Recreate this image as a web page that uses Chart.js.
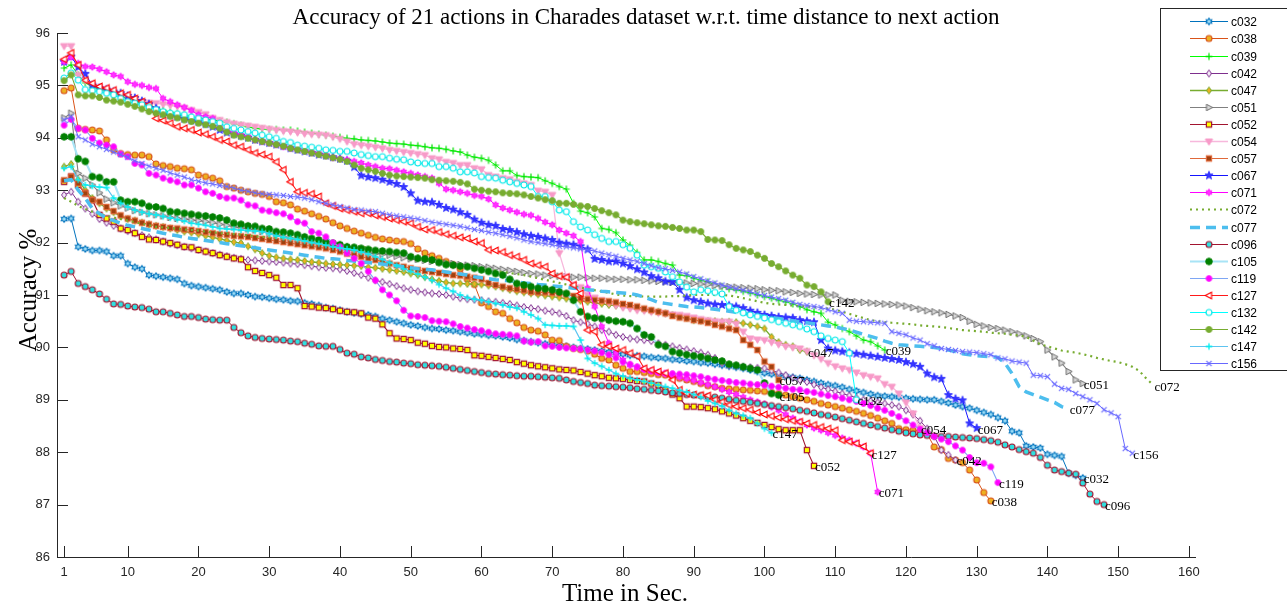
<!DOCTYPE html>
<html>
<head>
<meta charset="utf-8">
<script src="https://cdn.jsdelivr.net/npm/chart.js@4.4.1/dist/chart.umd.min.js"></script>
<style>
html,body{margin:0;padding:0;background:#fff;}
#wrap{width:1287px;height:610px;position:relative;}
</style>
</head>
<body>
<div id="wrap"><canvas id="c" width="1287" height="610"></canvas></div>
<script>
// ---------------- DATA (one value per second, starting at t = 1) ----------------
const titleText = 'Accuracy of 21 actions in Charades dataset w.r.t. time distance to next action';
const xAxisTitle = 'Time in Sec.';
const yAxisTitle = 'Accuracy %';
const xTickValues = [1,10,20,30,40,50,60,70,80,90,100,110,120,130,140,150,160];
const xTickLabels = ['1','10','20','30','40','50','60','70','80','90','100','110','120','130','140','150','160'];
const yTickValues = [86,87,88,89,90,91,92,93,94,95,96];
const yTickLabels = ['86','87','88','89','90','91','92','93','94','95','96'];
const seriesNames = ['c032','c038','c039','c042','c047','c051','c052','c054','c057','c067','c071','c072','c077','c096','c105','c119','c127','c132','c142','c147','c156'];

const c032 = [92.45,92.46,91.92,91.88,91.85,91.85,91.83,91.75,91.75,91.6,
91.53,91.5,91.38,91.36,91.34,91.32,91.3,91.22,91.18,91.16,
91.14,91.12,91.1,91.06,91.03,91.03,91.0,90.97,90.96,90.94,
90.92,90.91,90.89,90.88,90.85,90.83,90.8,90.76,90.74,90.71,
90.68,90.66,90.64,90.62,90.59,90.55,90.52,90.49,90.46,90.43,
90.41,90.38,90.36,90.35,90.33,90.32,90.3,90.28,90.26,90.25,
90.23,90.22,90.2,90.18,90.15,90.13,90.11,90.09,90.07,90.05,
90.03,90.02,90.0,89.98,89.97,89.95,89.93,89.91,89.89,89.87,
89.85,89.84,89.83,89.81,89.8,89.79,89.77,89.76,89.74,89.73,
89.71,89.7,89.68,89.66,89.64,89.62,89.6,89.57,89.54,89.51,
89.49,89.47,89.45,89.43,89.41,89.38,89.35,89.32,89.29,89.27,
89.24,89.2,89.17,89.14,89.11,89.08,89.07,89.06,89.05,89.03,
89.02,89.01,89.0,89.0,88.97,88.94,88.9,88.87,88.84,88.8,
88.76,88.72,88.66,88.6,88.4,88.37,88.12,88.1,88.08,87.96,
87.94,87.92,87.6,87.56,87.51];

const c038 = [94.9,94.95,94.18,94.16,94.15,94.13,93.96,93.77,93.7,93.68,
93.67,93.67,93.64,93.5,93.47,93.45,93.42,93.41,93.39,93.29,
93.26,93.23,93.18,93.07,93.04,93.0,92.97,92.94,92.92,92.88,
92.78,92.76,92.72,92.64,92.6,92.55,92.5,92.45,92.38,92.32,
92.27,92.22,92.18,92.14,92.1,92.07,92.05,92.03,92.02,91.98,
91.88,91.8,91.75,91.7,91.64,91.58,91.5,91.3,91.2,90.85,
90.78,90.68,90.65,90.55,90.47,90.38,90.33,90.31,90.24,90.14,
90.13,90.02,89.98,89.96,89.93,89.87,89.79,89.76,89.66,89.6,
89.54,89.54,89.52,89.5,89.48,89.47,89.44,89.41,89.38,89.35,
89.31,89.27,89.25,89.22,89.21,89.2,89.19,89.18,89.17,89.16,
89.14,89.12,89.09,89.06,89.03,89.0,88.97,88.93,88.9,88.87,
88.84,88.81,88.78,88.74,88.7,88.65,88.6,88.55,88.45,88.43,
88.42,88.4,88.35,88.1,88.05,87.88,87.85,87.8,87.66,87.47,
87.23,87.07];

const c039 = [95.33,95.39,95.2,95.05,94.97,94.93,94.9,94.85,94.8,94.75,
94.7,94.66,94.62,94.57,94.53,94.49,94.46,94.43,94.4,94.38,
94.36,94.34,94.32,94.3,94.27,94.24,94.21,94.18,94.17,94.16,
94.16,94.15,94.15,94.13,94.11,94.09,94.07,94.05,94.03,94.01,
93.99,93.98,93.96,93.95,93.94,93.92,93.9,93.89,93.88,93.86,
93.85,93.83,93.81,93.8,93.78,93.75,93.73,93.67,93.63,93.61,
93.57,93.48,93.37,93.37,93.28,93.26,93.25,93.24,93.18,93.13,
93.07,93.02,92.75,92.6,92.57,92.49,92.27,92.25,92.19,92.05,
91.95,91.81,91.67,91.67,91.64,91.6,91.57,91.38,91.37,91.32,
91.28,91.25,91.2,91.16,91.12,91.1,91.07,91.04,91.0,90.97,
90.94,90.9,90.87,90.83,90.78,90.72,90.68,90.65,90.48,90.43,
90.36,90.3,90.22,90.14,90.11,90.03,89.95];

const c042 = [92.91,92.97,92.78,92.65,92.55,92.45,92.38,92.32,92.27,92.22,
92.18,92.14,92.1,92.06,92.02,91.98,91.95,91.92,91.89,91.86,
91.83,91.8,91.77,91.74,91.71,91.69,91.67,91.66,91.65,91.64,
91.63,91.62,91.6,91.59,91.57,91.55,91.53,91.52,91.51,91.49,
91.46,91.42,91.38,91.33,91.28,91.25,91.21,91.17,91.13,91.1,
91.07,91.05,91.03,91.02,91.0,90.97,90.94,90.92,90.91,90.9,
90.88,90.87,90.85,90.83,90.8,90.77,90.75,90.73,90.7,90.68,
90.65,90.6,90.52,90.48,90.45,90.4,90.33,90.3,90.24,90.2,
90.17,90.15,90.14,90.12,90.08,90.05,90.02,89.99,89.96,89.93,
89.9,89.86,89.8,89.7,89.66,89.65,89.63,89.62,89.61,89.6,
89.56,89.52,89.47,89.42,89.38,89.34,89.29,89.24,89.2,89.16,
89.12,89.08,89.04,89.0,88.98,88.95,88.93,88.9,88.87,88.8,
88.72,88.6,88.45,88.3,88.04,87.95,87.85];

const c047 = [93.45,93.5,93.2,93.0,92.85,92.75,92.65,92.58,92.5,92.45,
92.42,92.38,92.35,92.32,92.3,92.27,92.24,92.21,92.19,92.16,
92.13,92.1,92.07,92.04,92.01,91.99,91.93,91.87,91.8,91.75,
91.72,91.7,91.68,91.67,91.65,91.63,91.62,91.6,91.59,91.58,
91.57,91.56,91.55,91.53,91.52,91.5,91.48,91.46,91.44,91.41,
91.38,91.34,91.3,91.27,91.24,91.22,91.22,91.21,91.21,91.2,
91.18,91.16,91.13,91.1,91.07,91.05,91.03,91.01,90.99,90.97,
90.95,90.93,90.91,90.89,90.87,90.85,90.83,90.81,90.8,90.78,
90.76,90.74,90.72,90.7,90.68,90.65,90.62,90.59,90.56,90.52,
90.51,90.5,90.5,90.49,90.49,90.48,90.46,90.43,90.4,90.36,
90.2,90.1,90.05,90.02,89.95,89.92];

const c051 = [94.38,94.47,93.32,93.23,93.1,92.95,92.83,92.76,92.7,92.66,
92.61,92.58,92.55,92.53,92.51,92.48,92.46,92.45,92.43,92.42,
92.4,92.38,92.35,92.33,92.3,92.28,92.26,92.24,92.21,92.17,
92.14,92.11,92.08,92.06,92.03,92.0,91.97,91.95,91.92,91.9,
91.87,91.84,91.82,91.8,91.79,91.78,91.76,91.74,91.71,91.69,
91.68,91.66,91.64,91.63,91.61,91.6,91.58,91.57,91.56,91.54,
91.53,91.51,91.49,91.47,91.45,91.43,91.41,91.4,91.38,91.37,
91.36,91.35,91.34,91.34,91.33,91.32,91.32,91.31,91.3,91.3,
91.29,91.29,91.28,91.27,91.26,91.25,91.24,91.24,91.23,91.22,
91.21,91.2,91.18,91.17,91.16,91.15,91.14,91.13,91.12,91.1,
91.09,91.08,91.06,91.05,91.03,91.02,91.01,91.0,91.0,91.0,
90.9,90.88,90.87,90.86,90.85,90.84,90.83,90.82,90.81,90.79,
90.76,90.73,90.7,90.68,90.66,90.63,90.6,90.57,90.5,90.44,
90.41,90.38,90.36,90.33,90.3,90.26,90.22,90.17,90.11,89.95,
89.82,89.7,89.54,89.38,89.31];

const c052 = [93.16,93.26,93.1,92.94,92.81,92.53,92.46,92.4,92.27,92.24,
92.18,92.11,92.06,92.05,92.02,91.99,91.96,91.92,91.91,91.86,
91.83,91.8,91.76,91.73,91.7,91.68,91.53,91.46,91.42,91.38,
91.33,91.19,91.19,91.13,90.79,90.78,90.76,90.75,90.73,90.7,
90.68,90.67,90.65,90.57,90.55,90.44,90.27,90.17,90.16,90.14,
90.09,90.07,90.03,90.01,90.0,89.98,89.97,89.95,89.85,89.84,
89.82,89.8,89.78,89.76,89.72,89.69,89.66,89.64,89.62,89.6,
89.58,89.57,89.56,89.53,89.5,89.47,89.45,89.42,89.41,89.4,
89.38,89.36,89.35,89.31,89.28,89.19,89.1,89.03,88.87,88.87,
88.86,88.84,88.82,88.78,88.74,88.7,88.65,88.6,88.56,88.52,
88.48,88.44,88.42,88.42,88.42,88.04,87.74];

const c054 = [95.75,95.75,95.2,95.1,95.02,94.97,94.93,94.88,94.83,94.78,
94.73,94.69,94.67,94.66,94.64,94.62,94.6,94.57,94.53,94.49,
94.45,94.38,94.34,94.3,94.27,94.25,94.23,94.21,94.19,94.17,
94.15,94.13,94.12,94.1,94.08,94.07,94.06,94.05,94.02,93.98,
93.93,93.88,93.86,93.84,93.82,93.8,93.77,93.75,93.73,93.71,
93.69,93.67,93.61,93.59,93.54,93.52,93.48,93.48,93.42,93.4,
93.29,93.26,93.23,93.21,93.16,93.13,93.1,92.99,92.97,92.91,
91.8,91.35,91.2,91.15,91.0,90.95,90.9,90.85,90.8,90.76,
90.74,90.71,90.7,90.68,90.66,90.65,90.63,90.62,90.6,90.57,
90.54,90.52,90.5,90.49,90.49,90.45,90.3,90.17,90.15,90.14,
90.1,90.06,90.02,90.0,89.98,89.93,89.85,89.78,89.7,89.64,
89.6,89.57,89.52,89.47,89.44,89.41,89.3,89.25,89.12,88.95,
88.74,88.46];

const c057 = [93.19,93.26,93.13,92.94,92.81,92.78,92.68,92.6,92.52,92.46,
92.42,92.38,92.35,92.32,92.3,92.28,92.27,92.25,92.24,92.22,
92.2,92.18,92.16,92.15,92.13,92.12,92.11,92.09,92.07,92.05,
92.03,92.01,91.99,91.97,91.95,91.93,91.91,91.89,91.86,91.83,
91.79,91.76,91.73,91.7,91.67,91.64,91.6,91.57,91.54,91.51,
91.48,91.46,91.44,91.42,91.4,91.38,91.37,91.35,91.33,91.3,
91.23,91.19,91.16,91.13,91.11,91.09,91.06,91.05,91.05,91.04,
91.03,91.01,90.98,90.94,90.92,90.9,90.89,90.88,90.86,90.83,
90.81,90.78,90.74,90.71,90.68,90.65,90.6,90.57,90.55,90.52,
90.5,90.47,90.43,90.4,90.36,90.33,90.14,90.05,89.95,89.73,
89.63,89.38];

const c067 = [95.45,95.55,95.35,95.22,95.0,94.95,94.92,94.88,94.85,94.8,
94.76,94.7,94.64,94.56,94.46,94.43,94.4,94.36,94.33,94.3,
94.26,94.21,94.15,94.1,94.07,94.04,94.0,93.96,93.93,93.9,
93.87,93.84,93.8,93.77,93.74,93.71,93.68,93.66,93.63,93.6,
93.56,93.44,93.28,93.25,93.23,93.2,93.16,93.12,93.06,92.94,
92.8,92.78,92.77,92.72,92.66,92.63,92.58,92.53,92.44,92.38,
92.34,92.32,92.26,92.24,92.2,92.16,92.13,92.11,92.08,92.05,
92.0,91.98,91.96,91.93,91.87,91.69,91.67,91.64,91.64,91.6,
91.55,91.49,91.43,91.36,91.32,91.26,91.25,91.1,90.95,90.9,
90.87,90.84,90.82,90.81,90.8,90.78,90.75,90.7,90.66,90.62,
90.6,90.58,90.57,90.56,90.52,90.5,90.48,90.14,89.98,89.94,
89.92,89.9,89.88,89.86,89.84,89.82,89.8,89.78,89.76,89.72,
89.68,89.63,89.5,89.43,89.4,89.09,89.02,88.99,88.55,88.46];

const c071 = [95.45,95.54,95.42,95.36,95.35,95.31,95.26,95.2,95.17,95.07,
95.02,95.0,94.96,94.94,94.75,94.69,94.63,94.58,94.52,94.44,
94.4,94.37,94.21,94.15,94.09,94.05,94.02,93.96,93.93,93.9,
93.87,93.83,93.8,93.78,93.75,93.72,93.7,93.66,93.62,93.6,
93.58,93.55,93.52,93.48,93.45,93.42,93.41,93.38,93.35,93.32,
93.29,93.26,93.23,93.13,93.02,93.0,92.97,92.94,92.9,92.88,
92.83,92.72,92.66,92.62,92.58,92.54,92.52,92.46,92.39,92.34,
92.24,92.18,92.13,92.02,91.13,90.78,90.4,90.08,89.89,89.76,
89.66,89.62,89.58,89.55,89.52,89.49,89.46,89.43,89.4,89.37,
89.33,89.29,89.25,89.2,89.15,89.1,89.05,89.0,88.96,88.92,
88.86,88.8,88.72,88.65,88.58,88.52,88.46,88.42,88.37,88.32,
88.27,88.23,88.17,88.1,87.98,87.24];

const c072 = [92.85,92.78,92.7,92.64,92.59,92.55,92.51,92.48,92.45,92.42,
92.39,92.36,92.33,92.3,92.29,92.28,92.27,92.25,92.24,92.23,
92.21,92.2,92.18,92.17,92.16,92.15,92.14,92.12,92.11,92.1,
92.09,92.09,92.08,92.07,92.06,92.05,92.03,92.02,92.0,91.98,
91.96,91.94,91.92,91.9,91.88,91.86,91.83,91.81,91.79,91.77,
91.75,91.72,91.69,91.66,91.63,91.6,91.57,91.55,91.52,91.5,
91.48,91.46,91.44,91.42,91.4,91.38,91.35,91.32,91.29,91.26,
91.23,91.2,91.17,91.14,91.12,91.09,91.07,91.04,91.01,90.99,
90.98,90.98,90.97,90.97,90.97,90.97,90.98,90.98,90.99,91.0,
91.0,91.0,91.0,91.0,90.99,90.97,90.94,90.91,90.88,90.85,
90.83,90.82,90.81,90.8,90.79,90.78,90.77,90.76,90.74,90.72,
90.68,90.64,90.6,90.56,90.52,90.5,90.48,90.47,90.46,90.45,
90.44,90.42,90.41,90.4,90.39,90.37,90.35,90.33,90.32,90.31,
90.3,90.28,90.27,90.26,90.24,90.23,90.2,90.13,90.06,90.02,
89.98,89.94,89.92,89.9,89.87,89.84,89.8,89.77,89.74,89.72,
89.68,89.63,89.55,89.4,89.28];

const c077 = [93.18,93.2,93.0,92.85,92.65,92.55,92.47,92.42,92.37,92.33,
92.3,92.27,92.24,92.21,92.18,92.15,92.13,92.1,92.08,92.06,
92.04,92.02,92.0,91.98,91.96,91.94,91.92,91.9,91.88,91.86,
91.84,91.82,91.8,91.78,91.76,91.74,91.72,91.7,91.69,91.68,
91.66,91.65,91.63,91.62,91.6,91.59,91.57,91.56,91.54,91.52,
91.5,91.49,91.48,91.46,91.44,91.42,91.4,91.38,91.35,91.33,
91.31,91.29,91.28,91.27,91.25,91.23,91.22,91.2,91.19,91.17,
91.16,91.15,91.13,91.12,91.1,91.09,91.07,91.06,91.05,91.04,
91.03,91.0,90.96,90.91,90.86,90.84,90.82,90.8,90.78,90.77,
90.76,90.74,90.73,90.71,90.69,90.67,90.65,90.63,90.61,90.59,
90.57,90.55,90.53,90.51,90.49,90.47,90.45,90.43,90.41,90.39,
90.36,90.33,90.29,90.25,90.21,90.17,90.12,90.08,90.05,90.04,
90.03,90.02,90.01,90.0,89.98,89.95,89.92,89.88,89.86,89.84,
89.83,89.82,89.81,89.7,89.5,89.25,89.15,89.1,89.05,89.0,
88.95,88.87,88.84];

const c096 = [91.38,91.45,91.22,91.16,91.1,91.02,90.92,90.83,90.82,90.79,
90.77,90.76,90.73,90.68,90.68,90.65,90.62,90.59,90.59,90.57,
90.54,90.53,90.52,90.52,90.38,90.28,90.22,90.19,90.17,90.16,
90.15,90.14,90.12,90.11,90.08,90.06,90.03,90.02,90.02,89.96,
89.89,89.87,89.82,89.8,89.77,89.75,89.73,89.72,89.7,89.69,
89.67,89.66,89.65,89.64,89.62,89.6,89.58,89.56,89.54,89.52,
89.5,89.49,89.48,89.47,89.46,89.45,89.45,89.44,89.43,89.42,
89.41,89.38,89.35,89.33,89.31,89.28,89.27,89.26,89.25,89.24,
89.23,89.21,89.2,89.18,89.17,89.15,89.13,89.12,89.1,89.09,
89.08,89.06,89.05,89.03,89.01,88.99,88.97,88.95,88.93,88.91,
88.89,88.87,88.85,88.83,88.8,88.78,88.75,88.72,88.7,88.67,
88.64,88.61,88.58,88.55,88.52,88.49,88.46,88.43,88.4,88.37,
88.35,88.33,88.32,88.31,88.3,88.3,88.29,88.28,88.27,88.26,
88.24,88.22,88.19,88.14,88.1,88.05,88.01,87.98,87.9,87.75,
87.66,87.63,87.6,87.58,87.41,87.2,87.06,87.0];

const c105 = [94.02,94.02,93.6,93.55,93.26,93.24,93.16,93.16,92.81,92.78,
92.78,92.75,92.69,92.68,92.65,92.59,92.58,92.56,92.54,92.52,
92.51,92.49,92.47,92.43,92.37,92.35,92.32,92.31,92.27,92.26,
92.21,92.2,92.18,92.15,92.11,92.08,92.05,92.02,91.99,91.96,
91.92,91.91,91.89,91.87,91.85,91.84,91.83,91.81,91.8,91.73,
91.7,91.69,91.67,91.62,91.58,91.57,91.55,91.54,91.51,91.48,
91.45,91.41,91.38,91.3,91.22,91.19,91.16,91.13,91.12,91.1,
91.06,91.03,90.9,90.68,90.59,90.56,90.55,90.52,90.5,90.49,
90.46,90.36,90.24,90.2,90.05,90.02,89.92,89.89,89.86,89.84,
89.82,89.79,89.76,89.74,89.68,89.66,89.63,89.6,89.57,89.32,
89.12,89.09];

const c119 = [94.24,94.35,94.18,94.15,93.99,93.9,93.86,93.83,93.69,93.64,
93.51,93.48,93.32,93.29,93.23,93.19,93.16,93.1,93.1,93.04,
92.97,92.94,92.88,92.85,92.85,92.81,92.72,92.7,92.62,92.6,
92.57,92.55,92.49,92.4,92.37,92.21,92.18,92.11,92.0,91.92,
91.8,91.7,91.6,91.45,91.28,91.1,91.0,90.89,90.71,90.6,
90.59,90.57,90.51,90.5,90.49,90.45,90.4,90.37,90.34,90.32,
90.29,90.26,90.25,90.24,90.22,90.12,90.1,90.11,90.03,90.02,
90.0,89.99,89.98,89.97,89.95,89.93,89.9,89.86,89.8,89.72,
89.68,89.63,89.58,89.55,89.52,89.51,89.5,89.49,89.48,89.46,
89.44,89.41,89.39,89.37,89.35,89.33,89.32,89.3,89.29,89.28,
89.26,89.24,89.22,89.2,89.19,89.16,89.14,89.11,89.08,89.06,
89.03,89.0,88.97,88.93,88.89,88.84,88.8,88.74,88.68,88.6,
88.52,88.44,88.37,88.3,88.25,88.2,88.12,88.04,87.9,87.8,
87.79,87.72,87.42];

const c127 = [95.5,95.62,95.39,95.1,95.04,94.98,94.95,94.91,94.85,94.82,
94.75,94.69,94.63,94.37,94.33,94.28,94.21,94.18,94.15,94.1,
94.07,94.02,93.96,93.93,93.86,93.83,93.77,93.71,93.68,93.64,
93.54,93.39,93.16,92.97,92.95,92.93,92.88,92.75,92.7,92.65,
92.62,92.59,92.56,92.56,92.52,92.49,92.46,92.43,92.4,92.37,
92.3,92.25,92.24,92.2,92.16,92.13,92.1,92.08,92.02,91.99,
91.86,91.85,91.82,91.76,91.73,91.67,91.6,91.57,91.54,91.41,
91.36,91.34,91.19,91.03,90.33,90.3,90.05,90.02,89.98,89.95,
89.89,89.83,89.6,89.57,89.54,89.51,89.38,89.19,89.12,89.1,
89.09,89.08,89.0,88.96,88.9,88.87,88.84,88.81,88.76,88.72,
88.69,88.66,88.63,88.6,88.58,88.55,88.52,88.48,88.45,88.42,
88.23,88.2,88.17,88.11,87.98];

const c132 = [95.14,95.24,95.1,94.92,94.9,94.88,94.85,94.82,94.75,94.69,
94.66,94.63,94.58,94.54,94.5,94.47,94.46,94.44,94.4,94.37,
94.34,94.31,94.28,94.21,94.18,94.15,94.12,94.09,94.05,94.02,
93.99,93.93,93.91,93.86,93.84,93.82,93.8,93.77,93.76,93.74,
93.74,93.71,93.68,93.66,93.64,93.64,93.61,93.59,93.58,93.54,
93.52,93.51,93.51,93.45,93.45,93.42,93.35,93.35,93.33,93.26,
93.24,93.23,93.19,93.16,93.13,93.1,93.07,92.88,92.88,92.78,
92.62,92.59,92.4,92.3,92.24,92.15,92.08,92.02,92.02,91.96,
91.89,91.76,91.57,91.54,91.51,91.44,91.35,91.25,91.15,91.06,
91.1,91.08,91.05,91.02,90.78,90.71,90.66,90.62,90.59,90.56,
90.53,90.49,90.46,90.43,90.4,90.35,90.3,90.22,90.17,90.14,
90.11,89.89,89.0];

const c142 = [95.09,95.2,94.82,94.8,94.8,94.77,94.72,94.7,94.68,94.64,
94.6,94.55,94.5,94.47,94.44,94.41,94.38,94.34,94.31,94.28,
94.25,94.22,94.18,94.11,94.05,94.02,93.99,93.96,93.93,93.9,
93.87,93.84,93.8,93.77,93.74,93.71,93.68,93.65,93.62,93.59,
93.55,93.48,93.42,93.39,93.36,93.32,93.29,93.27,93.26,93.25,
93.24,93.23,93.2,93.19,93.18,93.17,93.15,93.12,93.02,93.0,
92.98,92.97,92.95,92.94,92.93,92.91,92.88,92.85,92.82,92.8,
92.75,92.75,92.73,92.7,92.69,92.65,92.61,92.57,92.53,92.43,
92.4,92.38,92.36,92.34,92.32,92.31,92.29,92.27,92.24,92.24,
92.21,92.06,92.05,92.04,91.96,91.89,91.86,91.83,91.76,91.7,
91.6,91.54,91.46,91.38,91.32,91.19,91.16,91.06,90.87];

const c147 = [93.42,93.45,93.2,93.1,93.08,93.06,93.05,92.85,92.75,92.68,
92.62,92.58,92.55,92.53,92.5,92.47,92.44,92.41,92.37,92.35,
92.33,92.3,92.27,92.26,92.25,92.24,92.23,92.22,92.21,92.17,
92.13,92.1,92.08,92.06,92.03,92.0,91.98,91.95,91.92,91.9,
91.88,91.86,91.82,91.78,91.73,91.68,91.62,91.56,91.5,91.45,
91.4,91.34,91.28,91.2,91.13,91.07,91.0,90.95,90.92,90.9,
90.87,90.84,90.81,90.77,90.75,90.68,90.62,90.55,90.43,90.42,
90.41,90.41,90.4,90.14,89.79,89.7,89.64,89.57,89.5,89.45,
89.41,89.38,89.35,89.32,89.28,89.25,89.22,89.18,89.15,89.1,
89.05,88.98,88.93,88.88,88.8,88.74,88.7,88.65,88.55,88.45,
88.37];

const c156 = [94.34,94.4,94.02,93.96,93.88,93.83,93.78,93.73,93.68,93.63,
93.56,93.51,93.46,93.42,93.38,93.33,93.29,93.25,93.2,93.17,
93.14,93.12,93.09,93.07,93.04,93.0,92.98,92.95,92.93,92.92,
92.91,92.9,92.88,92.87,92.85,92.82,92.78,92.75,92.72,92.69,
92.66,92.63,92.62,92.6,92.59,92.56,92.53,92.51,92.49,92.47,
92.45,92.42,92.39,92.37,92.35,92.33,92.31,92.28,92.25,92.23,
92.2,92.18,92.15,92.12,92.09,92.05,92.02,92.0,91.98,91.96,
91.93,91.92,91.9,91.88,91.86,91.84,91.8,91.77,91.74,91.7,
91.67,91.64,91.6,91.56,91.52,91.5,91.47,91.44,91.4,91.35,
91.31,91.27,91.23,91.19,91.15,91.12,91.09,91.06,91.02,90.99,
90.96,90.93,90.9,90.86,90.82,90.8,90.78,90.76,90.72,90.68,
90.65,90.52,90.5,90.49,90.48,90.47,90.46,90.3,90.27,90.24,
90.18,90.14,90.07,90.03,89.98,89.96,89.94,89.92,89.91,89.9,
89.88,89.86,89.8,89.78,89.74,89.72,89.7,89.47,89.46,89.44,
89.3,89.22,89.2,89.12,89.06,89.0,88.93,88.81,88.75,88.68,
88.07,87.98];

const seriesValues = [c032,c038,c039,c042,c047,c051,c052,c054,c057,c067,c071,c072,c077,c096,c105,c119,c127,c132,c142,c147,c156];

// ---------------- STYLES ----------------
function marker(shape, r, fill, stroke, lw) {
  lw = lw || 1;
  const s = Math.ceil(2 * r + lw + 2);
  const c = document.createElement('canvas');
  c.width = s; c.height = s;
  const g = c.getContext('2d');
  g.translate(s / 2, s / 2);
  g.beginPath();
  let k, ang, rad;
  switch (shape) {
    case 'circle': g.arc(0, 0, r, 0, Math.PI * 2); break;
    case 'square': g.rect(-r * 0.82, -r * 0.82, r * 1.64, r * 1.64); break;
    case 'diamond': g.moveTo(0, -r); g.lineTo(r * 0.72, 0); g.lineTo(0, r); g.lineTo(-r * 0.72, 0); g.closePath(); break;
    case 'triR': g.moveTo(r, 0); g.lineTo(-r * 0.7, -r * 0.9); g.lineTo(-r * 0.7, r * 0.9); g.closePath(); break;
    case 'triL': g.moveTo(-r, 0); g.lineTo(r * 0.7, -r * 0.9); g.lineTo(r * 0.7, r * 0.9); g.closePath(); break;
    case 'triD': g.moveTo(0, r); g.lineTo(-r * 0.95, -r * 0.65); g.lineTo(r * 0.95, -r * 0.65); g.closePath(); break;
    case 'star5':
      for (k = 0; k < 10; k++) { ang = -Math.PI / 2 + k * Math.PI / 5; rad = (k % 2) ? r * 0.42 : r;
        if (k === 0) g.moveTo(rad * Math.cos(ang), rad * Math.sin(ang)); else g.lineTo(rad * Math.cos(ang), rad * Math.sin(ang)); }
      g.closePath(); break;
    case 'star6':
      for (k = 0; k < 12; k++) { ang = -Math.PI / 2 + k * Math.PI / 6; rad = (k % 2) ? r * 0.6 : r;
        if (k === 0) g.moveTo(rad * Math.cos(ang), rad * Math.sin(ang)); else g.lineTo(rad * Math.cos(ang), rad * Math.sin(ang)); }
      g.closePath(); break;
    case 'plus': g.moveTo(-r, 0); g.lineTo(r, 0); g.moveTo(0, -r); g.lineTo(0, r); break;
    case 'x': g.moveTo(-r * 0.75, -r * 0.75); g.lineTo(r * 0.75, r * 0.75); g.moveTo(r * 0.75, -r * 0.75); g.lineTo(-r * 0.75, r * 0.75); break;
  }
  if (fill && shape !== 'plus' && shape !== 'x') { g.fillStyle = fill; g.fill(); }
  if (stroke) { g.strokeStyle = stroke; g.lineWidth = lw; g.stroke(); }
  return c;
}

const seriesStyles = [
  { color: '#0072BD', width: 1,   dash: [], mk: ['star6', 3.3, '#9adcf7', '#0072BD', 1.1] },
  { color: '#D95319', width: 1,   dash: [], mk: ['circle', 3.0, '#EDB120', '#D95319', 1.1] },
  { color: '#00FF00', width: 1,   dash: [], mk: ['plus', 3.4, null, '#00E000', 1.2] },
  { color: '#7E2F8E', width: 1,   dash: [], mk: ['diamond', 3.5, '#f4eaf7', '#7E2F8E', 1.0] },
  { color: '#77AC30', width: 1.3, dash: [], mk: ['diamond', 3.5, '#EDB120', '#77AC30', 1.0] },
  { color: '#808080', width: 1.1, dash: [], mk: ['triR', 3.6, '#d8d8d8', '#6e6e6e', 1.0] },
  { color: '#A2142F', width: 1.1, dash: [], mk: ['square', 3.2, '#FFFF00', '#A2142F', 1.2] },
  { color: '#F7B8DC', width: 1.3, dash: [], mk: ['triD', 3.8, '#F79AC8', '#F79AC8', 1] },
  { color: '#E0693A', width: 1.1, dash: [], mk: ['square', 3.2, '#A0400F', '#E0693A', 1.1] },
  { color: '#1515FF', width: 1.0, dash: [], mk: ['star5', 4.3, '#3535FF', '#2020FF', 0.8] },
  { color: '#FF00FF', width: 1.0, dash: [], mk: ['star6', 3.4, '#FF33FF', '#FF00FF', 0.8] },
  { color: '#77AC30', width: 2.2, dash: [2, 4], mk: null },
  { color: '#4DBEEE', width: 3.5, dash: [10, 6], mk: null },
  { color: '#A2142F', width: 1.0, dash: [], mk: ['circle', 3.0, '#2FE0E0', '#A2142F', 1.1] },
  { color: '#A8E4F6', width: 2.2, dash: [], mk: ['circle', 3.3, '#008000', '#008000', 1] },
  { color: '#7EA6F4', width: 1.1, dash: [], mk: ['circle', 2.9, '#FF00FF', '#FF22FF', 1] },
  { color: '#FF1A1A', width: 1.1, dash: [], mk: ['triL', 3.7, '#ffffff', '#FF0000', 1.1] },
  { color: '#00FFFF', width: 1.0, dash: [], mk: ['circle', 3.0, '#ffffff', '#00E8E8', 1.2] },
  { color: '#77AC30', width: 1.1, dash: [], mk: ['circle', 3.0, '#77AC30', '#77AC30', 1] },
  { color: '#5EC4F0', width: 1.2, dash: [], mk: ['plus', 3.3, null, '#00F0F0', 1.3] },
  { color: '#6868FF', width: 1.0, dash: [], mk: ['x', 3.5, null, '#6868FF', 1.1] }
];

const SERIF = '"Liberation Serif", "Times New Roman", Times, serif';
const SANS = '"Liberation Sans", Arial, Helvetica, sans-serif';

const datasets = seriesNames.map((name, i) => {
  const st = seriesStyles[i];
  const img = st.mk ? marker(st.mk[0], st.mk[1], st.mk[2], st.mk[3], st.mk[4]) : false;
  return {
    label: name,
    data: seriesValues[i].map((v, k) => ({ x: k + 1, y: v })),
    borderColor: st.color,
    backgroundColor: st.color,
    borderWidth: st.width,
    borderDash: st.dash,
    pointStyle: img || 'circle',
    pointRadius: img ? 3 : 0,
    pointHoverRadius: img ? 3 : 0,
    fill: false,
    tension: 0,
    order: seriesNames.length - i,
    _img: img
  };
});

// ---------------- DECORATION PLUGIN ----------------
const decor = {
  id: 'decor',
  beforeDatasetsDraw(chart) {
    const ctx = chart.ctx, a = chart.chartArea, xs = chart.scales.x, ys = chart.scales.y;
    ctx.save();
    ctx.strokeStyle = '#262626';
    ctx.lineWidth = 1;
    ctx.beginPath();
    ctx.moveTo(a.left + 0.5, a.top);
    ctx.lineTo(a.left + 0.5, a.bottom + 0.5);
    ctx.lineTo(a.right, a.bottom + 0.5);
    xTickValues.forEach(v => {
      const px = Math.round(xs.getPixelForValue(v)) + 0.5;
      ctx.moveTo(px, a.bottom); ctx.lineTo(px, a.bottom - 11);
    });
    yTickValues.forEach(v => {
      const py = Math.round(ys.getPixelForValue(v)) + 0.5;
      ctx.moveTo(a.left, py); ctx.lineTo(a.left + 11, py);
    });
    ctx.stroke();
    ctx.restore();
  },
  afterDraw(chart) {
    const ctx = chart.ctx;
    ctx.save();
    // end-of-line labels
    ctx.fillStyle = '#000';
    ctx.font = '13px ' + SERIF;
    ctx.textAlign = 'left';
    ctx.textBaseline = 'middle';
    chart.data.datasets.forEach((ds, i) => {
      const meta = chart.getDatasetMeta(i);
      const p = meta.data[meta.data.length - 1];
      ctx.fillText(ds.label, p.x + 1, p.y + 2);
    });
    // title
    ctx.font = '23px ' + SERIF;
    ctx.textAlign = 'center';
    ctx.textBaseline = 'middle';
    ctx.fillText(titleText, 646, 18);
    // axis titles
    ctx.font = '25px ' + SERIF;
    ctx.fillText(xAxisTitle, 625, 594);
    ctx.save();
    ctx.translate(29, 290);
    ctx.rotate(-Math.PI / 2);
    ctx.fillText(yAxisTitle, 0, 0);
    ctx.restore();
    // legend
    const lx = 1160.5, ly = 8.5, lh = 362;
    ctx.fillStyle = '#fff';
    ctx.fillRect(lx, ly, 200, lh);
    ctx.strokeStyle = '#262626';
    ctx.lineWidth = 1;
    ctx.setLineDash([]);
    ctx.strokeRect(lx, ly, 200, lh);
    chart.data.datasets.forEach((ds, i) => {
      const y = Math.round(21.3 + i * 17.1) + 0.5;
      ctx.save();
      ctx.strokeStyle = ds.borderColor;
      ctx.lineWidth = ds.borderWidth;
      ctx.setLineDash(ds.borderDash || []);
      ctx.beginPath();
      ctx.moveTo(1190, y); ctx.lineTo(1228, y);
      ctx.stroke();
      ctx.restore();
      if (ds._img) {
        ctx.drawImage(ds._img, 1209 - ds._img.width / 2, y - ds._img.height / 2);
      }
      ctx.fillStyle = '#000';
      ctx.font = '12px ' + SANS;
      ctx.textAlign = 'left';
      ctx.textBaseline = 'middle';
      ctx.fillText(ds.label, 1231, y + 1);
    });
    ctx.restore();
  }
};

new Chart(document.getElementById('c'), {
  type: 'line',
  data: { datasets },
  plugins: [decor],
  options: {
    responsive: false,
    animation: false,
    devicePixelRatio: 1,
    layout: { padding: { left: 0, right: 91, top: 33, bottom: 0 } },
    plugins: { legend: { display: false }, title: { display: false }, tooltip: { enabled: false } },
    events: [],
    scales: {
      x: {
        type: 'linear', min: 0, max: 161,
        afterBuildTicks(s) { s.ticks = xTickValues.map(v => ({ value: v })); },
        afterFit(s) { s.height = 53; },
        ticks: { autoSkip: false, maxRotation: 0, padding: 8, color: '#262626',
                 font: { family: SANS, size: 13 },
                 callback: (v, i) => xTickLabels[i] },
        grid: { display: false, drawTicks: false },
        border: { display: false }
      },
      y: {
        type: 'linear', min: 86, max: 96,
        afterBuildTicks(s) { s.ticks = yTickValues.map(v => ({ value: v })); },
        afterFit(s) { s.width = 57; },
        ticks: { autoSkip: false, padding: 7, color: '#262626',
                 font: { family: SANS, size: 13 },
                 callback: (v, i) => yTickLabels[i] },
        grid: { display: false, drawTicks: false },
        border: { display: false }
      }
    }
  }
});
</script>
</body>
</html>
